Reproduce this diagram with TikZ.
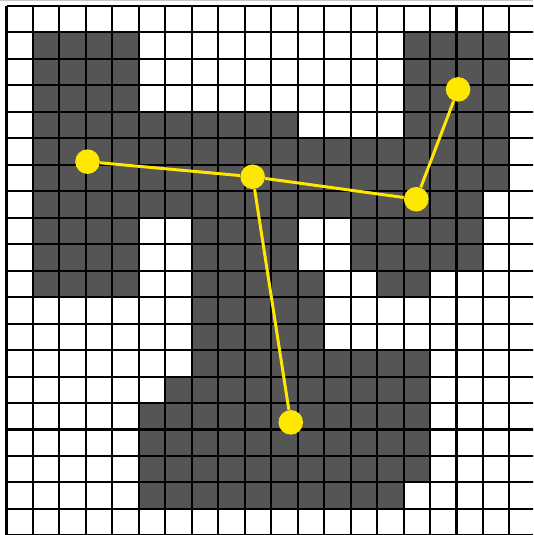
\documentclass[tikz,border=0pt]{standalone}
\usepackage{xcolor}
\usepackage{tikz}
\definecolor{CellGray}{RGB}{85, 85, 85}
\definecolor{DotYellow}{RGB}{255, 232, 0}
\definecolor{EdgeGray}{RGB}{200, 200, 200}

\begin{document}
\begin{tikzpicture}[
        x=0.5cm, y=-0.5cm,
        cell/.style={fill=CellGray},
        gridline/.style={black, line width=1.1pt},
        dot/.style={circle, fill=DotYellow, inner sep=0pt, minimum size=13.2pt},
        link/.style={DotYellow, line width=1.6pt}
    ]

    % Obszar obrazu
    \clip (-0.2456, -0.2267) rectangle (19.89, 19.985);
    \fill[white] (-0.2456, -0.2267) rectangle (19.89, 19.985);
    \draw[EdgeGray, line width=1.2pt] (-0.2456, -0.2267) -- (19.89, -0.2267);

    % Komórki wypełnione (wiersz / od kolumny / do kolumny)
    \foreach \r/\a/\b in {1/1/4, 1/15/18, 2/1/4, 2/15/18, 3/1/4, 3/15/18,
                          4/1/10, 4/15/18, 5/1/18, 6/1/18, 7/1/17,
                          8/1/4, 8/7/10, 8/13/17, 9/1/4, 9/7/10, 9/13/17,
                          10/1/4, 10/7/11, 10/14/15, 11/7/11, 12/7/11,
                          13/7/15, 14/6/15, 15/5/15, 16/5/15, 17/5/15, 18/5/14}
        \fill[cell] (\a, \r) rectangle (\b+1, \r+1);

    % Siatka
    \foreach \i in {0,...,20} {
        \draw[gridline] (\i, 0) -- (\i, 20);
        \draw[gridline] (0, \i) -- (20, \i);
    }

    % Punkty
    \node[dot] (dotL) at (3.06, 5.88) {};
    \node[dot] (dotM) at (9.30, 6.45) {};
    \node[dot] (dotR) at (15.48, 7.30) {};
    \node[dot] (dotT) at (17.06, 3.15) {};
    \node[dot] (dotB) at (10.74, 15.73) {};

    % Połączenia
    \draw[link] (dotL) -- (dotM);
    \draw[link] (dotM) -- (dotR);
    \draw[link] (dotR) -- (dotT);
    \draw[link] (dotM) -- (dotB);

\end{tikzpicture}
\end{document}
